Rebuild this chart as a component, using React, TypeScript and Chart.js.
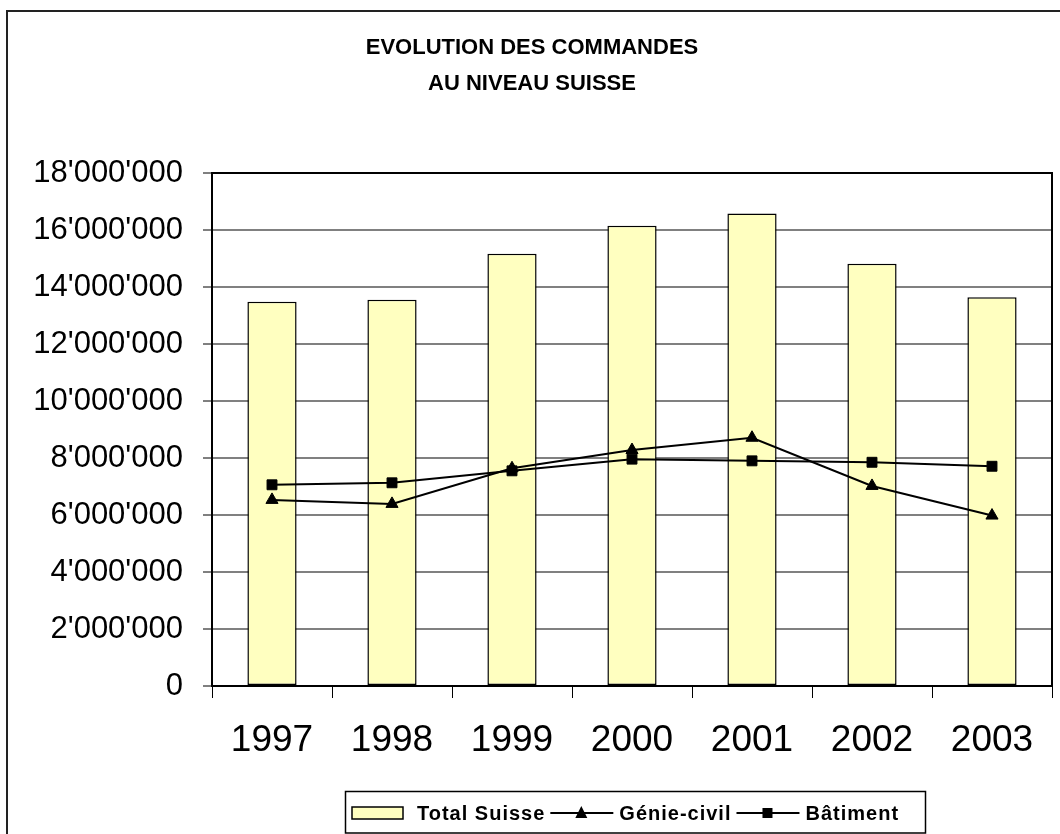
import React, { useEffect, useRef } from "react";
import { Chart, registerables } from "chart.js";

Chart.register(...registerables);

const years = ["1997", "1998", "1999", "2000", "2001", "2002", "2003"];
const totalSuisse = [13480000, 13550000, 15170000, 16150000, 16580000, 14820000, 13640000];
const genieCivil = [6530000, 6390000, 7640000, 8280000, 8710000, 7020000, 5980000];
const batiment = [7060000, 7130000, 7550000, 7960000, 7900000, 7850000, 7710000];
const titleLines = ["EVOLUTION DES COMMANDES", "AU NIVEAU SUISSE"];
const yMax = 18000000;
const yStep = 2000000;

const FONT = '"Liberation Sans", Arial, sans-serif';
const BAR_FILL = "#FFFFC0";

function fmt(v: number): string {
  return String(Math.round(v)).replace(/\B(?=(\d{3})+(?!\d))/g, "'");
}

const framePlugin = {
  id: "framePlugin",
  beforeDraw(chart: any) {
    const ctx = chart.ctx;
    ctx.save();
    ctx.fillStyle = "#fff";
    ctx.fillRect(0, 0, chart.width, chart.height);
    ctx.restore();
  },
  afterDraw(chart: any) {
    const ctx = chart.ctx;
    const ca = chart.chartArea;
    ctx.save();
    // outer frame
    ctx.strokeStyle = "#222";
    ctx.lineWidth = 2;
    ctx.beginPath();
    ctx.moveTo(7, chart.height + 5);
    ctx.lineTo(7, 11);
    ctx.lineTo(chart.width + 5, 11);
    ctx.stroke();
    // plot area frame
    ctx.strokeStyle = "#000";
    ctx.lineWidth = 2;
    ctx.strokeRect(ca.left, ca.top, ca.right - ca.left, ca.bottom - ca.top);

    // legend
    const ds = chart.data.datasets;
    const cy = 813;
    ctx.lineWidth = 1.5;
    ctx.strokeStyle = "#000";
    ctx.strokeRect(345.5, 791.5, 580, 41.5);
    ctx.font = "bold 20px " + FONT;
    (ctx as any).letterSpacing = "1px";
    ctx.textBaseline = "middle";
    ctx.textAlign = "left";
    ctx.fillStyle = "#000";
    let x = 352;
    const order = [2, 0, 1];
    order.forEach((idx) => {
      const d = ds[idx];
      if (d.type === "bar") {
        ctx.fillStyle = BAR_FILL;
        ctx.fillRect(x, cy - 6, 51, 12);
        ctx.strokeRect(x, cy - 6, 51, 12);
        x += 51 + 14;
      } else {
        ctx.strokeStyle = "#000";
        ctx.lineWidth = 2;
        ctx.beginPath();
        ctx.moveTo(x, cy);
        ctx.lineTo(x + 63, cy);
        ctx.stroke();
        ctx.fillStyle = "#000";
        const mx = x + 31;
        if (d.pointStyle === "triangle") {
          ctx.beginPath();
          ctx.moveTo(mx, cy - 7);
          ctx.lineTo(mx + 6, cy + 5);
          ctx.lineTo(mx - 6, cy + 5);
          ctx.closePath();
          ctx.fill();
        } else {
          ctx.fillRect(mx - 5, cy - 5, 10, 10);
        }
        x += 63 + 6;
      }
      ctx.fillStyle = "#000";
      ctx.fillText(d.label, x, cy + 1);
      x += ctx.measureText(d.label).width + 5;
    });
    ctx.restore();
  },
};

export default function App() {
  const ref = useRef<HTMLCanvasElement | null>(null);
  useEffect(() => {
    if (!ref.current) return;
    const chart = new Chart(ref.current, {
      type: "bar",
      data: {
        labels: years,
        datasets: [
          {
            type: "line",
            label: "Génie-civil",
            data: genieCivil,
            borderColor: "#000",
            backgroundColor: "#000",
            borderWidth: 2,
            pointStyle: "triangle",
            pointRadius: 7,
            pointBorderWidth: 1,
            pointBackgroundColor: "#000",
            pointBorderColor: "#000",
            tension: 0,
            order: 0,
          } as any,
          {
            type: "line",
            label: "Bâtiment",
            data: batiment,
            borderColor: "#000",
            backgroundColor: "#000",
            borderWidth: 2,
            pointStyle: "rect",
            pointRadius: 7,
            pointBorderWidth: 1,
            pointBackgroundColor: "#000",
            pointBorderColor: "#000",
            tension: 0,
            order: 0,
          } as any,
          {
            type: "bar",
            label: "Total Suisse",
            data: totalSuisse,
            backgroundColor: BAR_FILL,
            borderColor: "#000",
            borderWidth: 1.5,
            borderSkipped: false,
            barPercentage: 0.41,
            categoryPercentage: 1,
            order: 1,
          } as any,
        ],
      },
      options: {
        responsive: false,
        animation: false,
        layout: { padding: { top: 0, left: 0, right: -4, bottom: 0 } },
        plugins: {
          legend: { display: false },
          tooltip: { enabled: false },
          title: {
            display: true,
            text: titleLines,
            color: "#000",
            font: { family: FONT, size: 22, weight: "bold", lineHeight: 36 / 22 },
            padding: { top: 30, bottom: 71 },
          },
        },
        scales: {
          x: {
            grid: {
              display: true,
              drawOnChartArea: false,
              drawTicks: true,
              tickLength: 12,
              color: "#000",
              lineWidth: 1,
              offset: true,
            },
            border: { display: true, color: "#000", width: 2 },
            ticks: {
              color: "#000",
              font: { family: FONT, size: 37 },
              padding: 21,
              maxRotation: 0,
              autoSkip: false,
            },
            afterFit(scale: any) {
              scale.height = 148;
            },
          },
          y: {
            min: 0,
            max: yMax,
            grid: {
              color: "#808080",
              lineWidth: 2,
              tickLength: 9,
              tickColor: "#000",
              tickWidth: 1,
            },
            border: { display: true, color: "#000", width: 2 },
            ticks: {
              stepSize: yStep,
              color: "#000",
              font: { family: FONT, size: 31 },
              padding: 20,
              callback: (v: any) => fmt(Number(v)),
            },
            afterFit(scale: any) {
              scale.width = 212;
            },
          },
        },
      },
      plugins: [framePlugin],
    } as any);
    return () => chart.destroy();
  }, []);
  return (
    <div style={{ position: "fixed", left: 0, top: 0, width: 1060, height: 834, background: "#fff" }}>
      <canvas ref={ref} width={1060} height={834} style={{ display: "block" }} />
    </div>
  );
}
